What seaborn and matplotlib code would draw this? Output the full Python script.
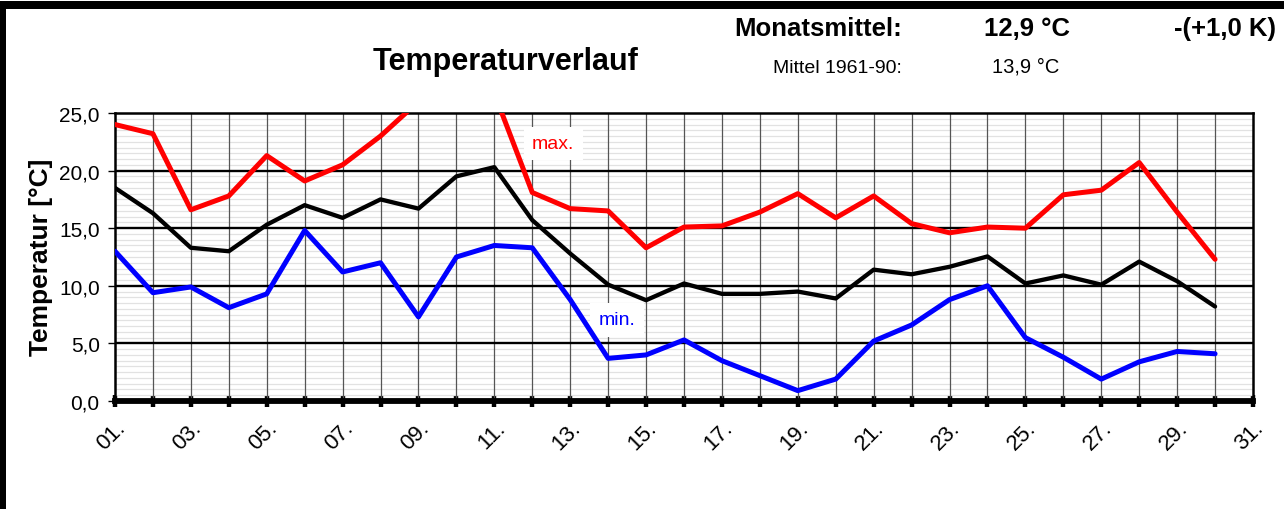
import numpy as np
import pandas as pd
import matplotlib
matplotlib.use("Agg")
import matplotlib.pyplot as plt
from matplotlib.patches import Rectangle
from matplotlib.ticker import MultipleLocator
import seaborn as sns

# daily values (days 1..30)
days = list(range(1, 31))
t_max = [24.0, 23.2, 16.6, 17.8, 21.3, 19.1, 20.5, 23.0, 26.0, 27.0,
         26.7, 18.1, 16.7, 16.5, 13.3, 15.1, 15.2, 16.4, 18.0, 15.9,
         17.8, 15.4, 14.6, 15.1, 15.0, 17.9, 18.3, 20.7, 16.4, 12.3]
t_mean = [18.5, 16.3, 13.3, 13.0, 15.3, 17.0, 15.9, 17.5, 16.7, 19.5,
          20.3, 15.7, 12.8, 10.1, 8.75, 10.2, 9.3, 9.3, 9.5, 8.9,
          11.4, 11.0, 11.65, 12.55, 10.2, 10.9, 10.1, 12.1, 10.4, 8.2]
t_min = [13.0, 9.4, 9.9, 8.1, 9.3, 14.8, 11.2, 12.0, 7.3, 12.5,
         13.5, 13.3, 8.8, 3.7, 4.0, 5.3, 3.5, 2.2, 0.9, 1.9,
         5.2, 6.6, 8.8, 10.0, 5.5, 3.8, 1.9, 3.4, 4.3, 4.1]

tick_days = list(range(1, 32))
tick_labels = [f"{d:02d}." if d % 2 else "" for d in tick_days]
y_ticks = [0, 5, 10, 15, 20, 25]
y_labels = [f"{v:.1f}".replace(".", ",") for v in y_ticks]

df = pd.DataFrame({"Tag": days, "max": t_max, "mittel": t_mean, "min": t_min})

sns.set_style("white")
plt.rcParams['font.family'] = ['Liberation Sans', 'DejaVu Sans']
plt.rcParams['text.color'] = 'black'
plt.rcParams['xtick.color'] = 'black'
plt.rcParams['ytick.color'] = 'black'
plt.rcParams['axes.labelcolor'] = 'black'

W, H = 1284, 510
fig = plt.figure(figsize=(W / 100, H / 100), dpi=100)
ax = fig.add_axes([115 / W, 1 - 402 / H, (1253 - 115) / W, (402 - 114) / H])

def fx(x):
    return x / W

def fy(y):
    return 1 - y / H

# thick frame on top and left
fig.add_artist(Rectangle((0, fy(10)), 1, 8 / H, transform=fig.transFigure,
                         facecolor="black", edgecolor="none"))
fig.add_artist(Rectangle((0, 0), 6 / W, fy(2), transform=fig.transFigure,
                         facecolor="black", edgecolor="none"))

# the three curves
sns.lineplot(data=df, x="Tag", y="max", color="#ff0000", linewidth=3.6, ax=ax, zorder=5)
sns.lineplot(data=df, x="Tag", y="mittel", color="black", linewidth=3.1, ax=ax, zorder=5)
sns.lineplot(data=df, x="Tag", y="min", color="#0000ff", linewidth=3.6, ax=ax, zorder=5)

ax.set_xlim(1, 31)
ax.set_ylim(0, 25)
ax.set_xticks(tick_days)
ax.set_xticklabels(tick_labels, rotation=45, ha="right", rotation_mode="anchor", fontsize=16)
ax.set_yticks(y_ticks)
ax.set_yticklabels(y_labels, fontsize=15)
ax.yaxis.set_minor_locator(MultipleLocator(0.5))
ax.set_xlabel("")
ax.set_ylabel("")

# grid: light minor horizontals, gray verticals on top, black major horizontals
ax.set_axisbelow(True)
ax.grid(axis="y", which="minor", color="#e2e2e2", linewidth=0.9)
ax.vlines(tick_days[1:-1], 0, 25, color="#555555", linewidth=0.9, zorder=1.5)
ax.hlines(y_ticks[1:-1], 1, 31, color="black", linewidth=1.7, zorder=1.6)

for side in ["top", "right", "left"]:
    ax.spines[side].set_color("black")
    ax.spines[side].set_linewidth(1.8)
ax.spines["bottom"].set_color("black")
ax.spines["bottom"].set_linewidth(4.2)
ax.spines["bottom"].set_zorder(6)

ax.tick_params(axis="x", which="major", direction="inout", length=9, width=3.2,
               color="black", pad=7, bottom=True)
ax.tick_params(axis="y", which="major", direction="out", length=5, width=1,
               color="black", pad=6, left=True)
ax.tick_params(axis="y", which="minor", length=0)

# series labels
ax.text(12.55, 21.95, "max.", color="#ff0000", fontsize=14, ha="center", va="baseline",
        zorder=4, bbox=dict(facecolor="white", edgecolor="none", pad=6))
ax.text(14.23, 6.67, "min.", color="#0000ff", fontsize=14, ha="center", va="baseline",
        zorder=4, bbox=dict(facecolor="white", edgecolor="none", pad=6))

# header texts
fig.text(fx(506), fy(70), "Temperaturverlauf", fontsize=22, weight="bold",
         ha="center", va="baseline")
fig.text(fx(902), fy(36), "Monatsmittel:", fontsize=18.5, weight="bold",
         ha="right", va="baseline")
fig.text(fx(1070), fy(36), "12,9 °C", fontsize=18.5, weight="bold",
         ha="right", va="baseline")
fig.text(fx(1276), fy(36), "-(+1,0 K)", fontsize=18.5, weight="bold",
         ha="right", va="baseline")
fig.text(fx(902), fy(73), "Mittel 1961-90:", fontsize=14, ha="right", va="baseline")
fig.text(fx(992), fy(73), "13,9 °C", fontsize=14.5, ha="left", va="baseline")

fig.text(fx(41), fy(257), "Temperatur [°C]", fontsize=19, weight="bold",
         rotation=90, ha="center", va="center")

plt.savefig("out.png", dpi=100)
